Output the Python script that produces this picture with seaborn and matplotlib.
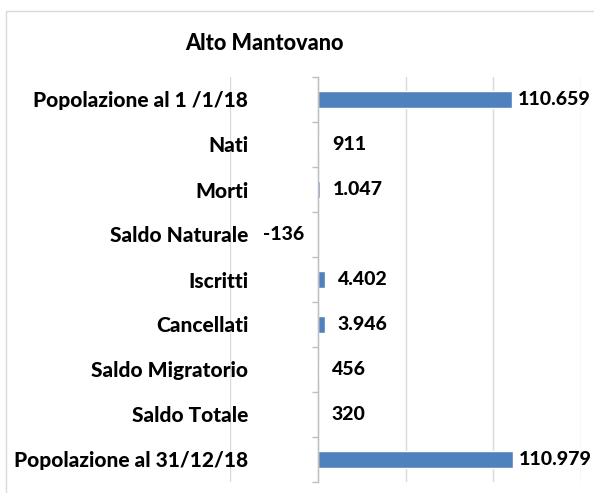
import matplotlib
matplotlib.use("Agg")
import matplotlib.pyplot as plt
from matplotlib.patches import Rectangle
from matplotlib.ticker import FixedLocator
import seaborn as sns
import pandas as pd

# Bilancio demografico 2018 - Alto Mantovano
categories = [
    "Popolazione al 1 /1/18",
    "Nati",
    "Morti",
    "Saldo Naturale",
    "Iscritti",
    "Cancellati",
    "Saldo Migratorio",
    "Saldo Totale",
    "Popolazione al 31/12/18",
]
values = [110659, 911, 1047, -136, 4402, 3946, 456, 320, 110979]
value_labels = ["110.659", "911", "1.047", "-136", "4.402", "3.946", "456", "320", "110.979"]
title = "Alto Mantovano"

sns.set_theme(style="white")
plt.rcParams["font.family"] = ["Lato", "DejaVu Sans"]

DPI = 100
W, H = 594, 493
fig = plt.figure(figsize=(W / DPI, H / DPI), dpi=DPI)
fig.patch.set_facecolor("white")

# plot area in pixel coordinates
left, right, top, bottom = 230, 581, 77, 482
ax = fig.add_axes([left / W, 1 - bottom / H, (right - left) / W, (bottom - top) / H])

df = pd.DataFrame({"categoria": categories, "valore": values})
BAR = "#4f81bd"
sns.barplot(data=df, x="valore", y="categoria", orient="h", color=BAR,
            width=0.37, saturation=1, ax=ax, zorder=3)

ax.set_xlim(-50000, 150000)
ax.set_ylim(len(categories) - 0.5, -0.5)
ax.set_xlabel("")
ax.set_ylabel("")

# vertical gridlines
ax.set_xticks([-50000, 0, 50000, 100000, 150000])
ax.xaxis.grid(True, color="#d9d9d9", linewidth=1.0, zorder=0)
ax.tick_params(axis="x", length=0, labelbottom=False)

for s in ["top", "right", "bottom"]:
    ax.spines[s].set_visible(False)
ax.spines["left"].set_position(("data", 0))
ax.spines["left"].set_color("#bfbfbf")
ax.spines["left"].set_linewidth(1.0)
ax.spines["left"].set_zorder(4)

WEIGHT = "black"

# category labels away from the axis, tick marks between categories
ax.yaxis.set_minor_locator(FixedLocator([i - 0.5 for i in range(len(categories) + 1)]))
ax.tick_params(axis="y", which="major", length=0, pad=50, labelsize=15)
ax.tick_params(axis="y", which="minor", left=True, length=4.5, width=1.0,
               color="#bfbfbf", direction="out")
for lab in ax.get_yticklabels():
    lab.set_fontweight(WEIGHT)
    lab.set_color("black")

# data labels
for i, (v, txt) in enumerate(zip(values, value_labels)):
    if v >= 0:
        pad = 6 if v > 100000 else 13
        ax.annotate(txt, (v, i), xytext=(pad, 0), textcoords="offset pixels",
                    ha="left", va="center", fontsize=14, fontweight=WEIGHT,
                    color="black", annotation_clip=False, zorder=5)
    else:
        ax.annotate(txt, (v, i), xytext=(-13, 0), textcoords="offset pixels",
                    ha="right", va="center", fontsize=14, fontweight=WEIGHT,
                    color="black", annotation_clip=False, zorder=5)

fig.text(264 / W, 1 - 43 / H, title, ha="center", va="center",
         fontsize=15.6, fontweight=WEIGHT, color="black")

# chart frame
fig.add_artist(Rectangle((6 / W, -0.1), 1.2, 1 - 11 / H + 0.1,
                         transform=fig.transFigure, fill=False,
                         edgecolor="#d9d9d9", linewidth=1.0))

fig.savefig("out.png", dpi=DPI)
